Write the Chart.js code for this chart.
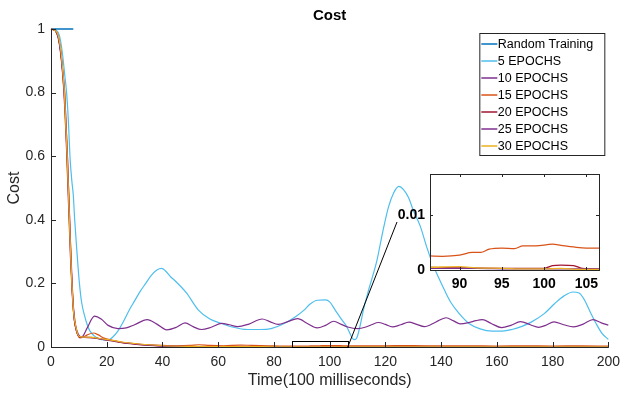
<!DOCTYPE html>
<html>
<head>
<meta charset="utf-8">
<script src="https://cdn.jsdelivr.net/npm/chart.js@4/dist/chart.umd.min.js"></script>
<style>
  html, body { margin: 0; padding: 0; background: #fff; }
  #wrap { position: relative; width: 627px; height: 393px; }
  #main { position: absolute; left: 0; top: 0; }
  #inset { position: absolute; left: 380px; top: 160px; }
</style>
</head>
<body>
<div id="wrap">
  <canvas id="main" width="627" height="393"></canvas>
  <canvas id="inset" width="230" height="140"></canvas>
</div>
<script>
// ---- Cost over time (time unit = 100 ms) ----
const randomT    = [0, 8];
const randomCost = [1, 1];

const epoch5T = [0,2,3,4,5,5.6,6.3,6.8,7.5,8, 8.5,9.3,10.2,11,12,13,14,15.5,17,19,
  20.5,22,24,26,28,30,32,34,36,38, 39.7,41,43,44.3,48.6,52.9,57,61.2,65,70.6,
  75,79,83.7,88,90.8,93,95.5,98.5,100,102, 104,106.2,108,108.8,109.8,111,112.1,114,116.9,119,
  121.1,123,124.8,126.5,128.3,130,132.5,135,137,139, 141.2,143.5,146.5,150,154,158.3,162,165.4,169,172.5,
  177,180.8,184,187.3,189.5,191.5,193.5,195.6,197.8,200];
const epoch5Cost = [1,0.995,0.98,0.93,0.85,0.8,0.7,0.6,0.52,0.478, 0.4,0.3,0.2,0.14,0.1,0.07,0.05,0.035,0.027,0.022,
  0.022,0.03,0.05,0.08,0.115,0.145,0.175,0.2,0.225,0.242, 0.247,0.24,0.22,0.21,0.17,0.116,0.088,0.074,0.063,0.055,
  0.055,0.058,0.074,0.097,0.116,0.135,0.147,0.148,0.142,0.116, 0.09,0.063,0.03,0.023,0.03,0.07,0.116,0.18,0.27,0.36,
  0.44,0.485,0.505,0.495,0.47,0.43,0.38,0.31,0.26,0.22, 0.179,0.14,0.105,0.074,0.057,0.05,0.05,0.055,0.065,0.079,
  0.105,0.137,0.16,0.173,0.17,0.147,0.11,0.074,0.042,0.024];

const epoch10T = [0,1.5,2.5,3.5,4.3,4.9,5.4,5.9,6.3,6.7, 7.1,7.6,8.2,9,9.8,10.5,11.5,13,15.6,18,
  20.5,24,27,30,34.5,38,41.5,45,48.1,51, 54,57.5,61.2,64,67,71,75.8,78.5,81.5,85,
  88.5,92,95.5,98.5,101.5,104,106.5,110,113,115, 117.5,120,122.5,125.5,128.5,131,134,138,141.8,144.5,
  146.8,150,152.5,154.8,158,161.7,165,168.5,172,175, 177.5,180.5,184,187.5,191,194.5,197.5,200];
const epoch10Cost = [1,0.995,0.98,0.93,0.86,0.8,0.7,0.6,0.5,0.4, 0.3,0.2,0.1,0.055,0.036,0.03,0.035,0.06,0.097,0.088,
  0.068,0.058,0.06,0.07,0.086,0.072,0.054,0.062,0.076,0.064, 0.055,0.062,0.074,0.07,0.064,0.072,0.088,0.08,0.071,0.08,
  0.089,0.074,0.06,0.068,0.081,0.072,0.063,0.058,0.063,0.07, 0.077,0.071,0.063,0.07,0.078,0.072,0.064,0.078,0.092,0.082,
  0.073,0.077,0.083,0.086,0.074,0.061,0.068,0.08,0.07,0.062, 0.068,0.079,0.07,0.063,0.072,0.086,0.076,0.069];

const epoch15T = [0,1.5,2.5,3.5,4.3,4.9,5.4,5.9,6.3,6.7, 7.1,7.5,8.2,9,9.8,10.4,11.5,13,15.2,17,
  19,22,26,30,35,40,45,50,53,57, 62,68,72,78,82,86,88,90,91.5,92.5,
  93.5,95,96.5,97.5,99,101,102,103.5,105,106.5, 110,120,130,140,150,160,170,180,190,200];
const epoch15Cost = [1,0.995,0.98,0.93,0.86,0.8,0.7,0.6,0.5,0.4, 0.3,0.2,0.1,0.055,0.035,0.029,0.031,0.038,0.044,0.038,
  0.028,0.021,0.014,0.01,0.007,0.005,0.004,0.005,0.007,0.005, 0.004,0.006,0.005,0.004,0.003,0.0026,0.0025,0.0027,0.0032,0.0032,
  0.0038,0.004,0.0039,0.0044,0.0044,0.0047,0.0045,0.0042,0.004,0.004, 0.0035,0.004,0.0045,0.0035,0.004,0.003,0.0035,0.003,0.0035,0.003];

const epoch20T = [0,1.5,2.5,3.5,4.5,5,5.5,6,6.5,7, 7.6,8.3,9.2,10.2,12,15,18,22,26,30,
  35,40,50,60,70,80,86,90,95,100, 101,102,103.5,104.5,107,120,140,160,180,200];
const epoch20Cost = [1,0.995,0.975,0.92,0.82,0.74,0.64,0.52,0.4,0.28, 0.17,0.09,0.05,0.031,0.03,0.029,0.025,0.019,0.013,0.009,
  0.005,0.003,0.0015,0.001,0.001,0.0007,0.0005,0.0004,0.0003,0.0003, 0.0008,0.0009,0.0008,0.0003,0.0002,0.0004,0.0003,0.0004,0.0003,0.0003];

const epoch25T = [0,1.5,2.5,3.5,4.4,5,5.5,6,6.4,6.8, 7.3,8,8.8,9.8,11,14,18,22,26,30,
  35,40,50,60,70,80,86,92,96,100, 106,120,140,160,180,200];
const epoch25Cost = [1,0.995,0.978,0.925,0.84,0.76,0.66,0.55,0.45,0.35, 0.24,0.13,0.07,0.04,0.031,0.03,0.025,0.02,0.014,0.01,
  0.006,0.003,0.0015,0.001,0.0008,0.0005,0.0003,0.0003,0.0002,0.0002, 0.0002,0.0003,0.0002,0.0003,0.0002,0.0002];

const epoch30T = [0,1.5,2.5,3.5,4.2,4.8,5.3,5.8,6.2,6.6, 7,7.5,8.1,9,10,12,15,18,22,26,
  30,35,40,50,60,70,80,86,90,92, 95,98,100,102,104,107,120,140,160,180, 200];
const epoch30Cost = [1,0.995,0.982,0.935,0.87,0.8,0.7,0.6,0.5,0.4, 0.3,0.2,0.11,0.06,0.034,0.031,0.03,0.026,0.021,0.015,
  0.011,0.007,0.004,0.002,0.0015,0.001,0.0008,0.0005,0.0006,0.0004, 0.0003,0.0002,0.0002,0.0003,0.0001,0.0001,0.0002,0.0003,0.0002,0.0003, 0.0002];

const seriesLabels = ['Random Training','5 EPOCHS','10 EPOCHS','15 EPOCHS','20 EPOCHS','25 EPOCHS','30 EPOCHS'];

// axis ticks
const xTicks = [0,20,40,60,80,100,120,140,160,180,200];
const yTicks = [0,0.2,0.4,0.6,0.8,1];
const zoomX = [86.5, 106.5];
const zoomY = [0, 0.0175];
const insetXTicks = [90,95,100,105];
const insetYTicks = [0,0.01];

const FONT = 'Liberation Sans, Arial, Helvetica, sans-serif';
const AXIS = '#262626';
const colors = ['#0072BD','#4DBEEE','#7E2F8E','#D95319','#A2142F','#7E2F8E','#EDB120'];
const seriesT = [randomT, epoch5T, epoch10T, epoch15T, epoch20T, epoch25T, epoch30T];
const seriesC = [randomCost, epoch5Cost, epoch10Cost, epoch15Cost, epoch20Cost, epoch25Cost, epoch30Cost];

function points(t, c) { return t.map((x, i) => ({ x: x, y: c[i] })); }

function makeDatasets(clip) {
  return seriesLabels.map((label, i) => ({
    label: label,
    data: points(seriesT[i], seriesC[i]),
    borderColor: colors[i],
    backgroundColor: colors[i],
    borderWidth: i === 0 ? 1.5 : 1.2,
    pointRadius: 0,
    fill: false,
    clip: clip,
    cubicInterpolationMode: 'monotone',
    order: seriesLabels.length - i   // later series drawn on top
  }));
}

// inward ticks, axis lines, zoom box and connector on the main axes
const mainDecor = {
  id: 'mainDecor',
  afterDatasetsDraw(chart) {
    const { ctx, chartArea: a, scales: { x, y } } = chart;
    ctx.save();
    ctx.strokeStyle = AXIS;
    ctx.lineWidth = 1;
    ctx.beginPath();
    ctx.moveTo(a.left + 0.5, a.top);
    ctx.lineTo(a.left + 0.5, a.bottom + 0.5);
    ctx.lineTo(a.right + 0.5, a.bottom + 0.5);
    xTicks.forEach(v => {
      const px = Math.round(x.getPixelForValue(v)) + 0.5;
      ctx.moveTo(px, a.bottom); ctx.lineTo(px, a.bottom - 5);
    });
    yTicks.forEach(v => {
      const py = Math.round(y.getPixelForValue(v)) + 0.5;
      ctx.moveTo(a.left, py); ctx.lineTo(a.left + 5, py);
    });
    ctx.stroke();

    // zoomed region box
    const x0 = x.getPixelForValue(zoomX[0]), x1 = x.getPixelForValue(zoomX[1]);
    const y0 = y.getPixelForValue(zoomY[0]), y1 = y.getPixelForValue(zoomY[1]);
    ctx.strokeStyle = '#000';
    ctx.lineWidth = 1;
    ctx.strokeRect(Math.round(x0) + 0.5, Math.round(y1) + 0.5, Math.round(x1 - x0), Math.round(y0 - y1));
    // connector to the inset
    ctx.beginPath();
    ctx.moveTo(x1, y0);
    ctx.lineTo(397, 222);
    ctx.stroke();
    ctx.restore();
  },
  afterDraw(chart) {
    const { ctx, chartArea: a } = chart;
    ctx.save();
    // title
    ctx.fillStyle = '#000';
    ctx.font = 'bold 15px ' + FONT;
    ctx.textAlign = 'center';
    ctx.textBaseline = 'middle';
    ctx.fillText('Cost', (a.left + a.right) / 2, 16);

    // legend
    const left = a.right - 129, top = a.top + 4, w = 125, rowH = 17;
    const h = rowH * seriesLabels.length + 3;
    ctx.fillStyle = '#fff';
    ctx.fillRect(left, top, w, h);
    ctx.strokeStyle = AXIS;
    ctx.lineWidth = 1;
    ctx.strokeRect(left + 0.5, top + 0.5, w, h);
    ctx.font = '12.5px ' + FONT;
    ctx.textAlign = 'left';
    seriesLabels.forEach((label, i) => {
      const cy = top + 11 + rowH * i;
      ctx.strokeStyle = colors[i];
      ctx.lineWidth = 1.5;
      ctx.beginPath();
      ctx.moveTo(left + 2, cy); ctx.lineTo(left + 18, cy);
      ctx.stroke();
      ctx.fillStyle = '#000';
      ctx.fillText(label, left + 18.5, cy + 0.5);
    });
    ctx.restore();
  }
};

new Chart(document.getElementById('main'), {
  type: 'line',
  data: { datasets: makeDatasets(4) },
  options: {
    responsive: false,
    animation: false,
    devicePixelRatio: 1,
    layout: { padding: { top: 29, right: 13, left: 0, bottom: 0 } },
    plugins: { legend: { display: false }, tooltip: { enabled: false }, title: { display: false } },
    scales: {
      x: {
        type: 'linear', min: 0, max: 200,
        afterBuildTicks: s => { s.ticks = xTicks.map(v => ({ value: v })); },
        afterFit: s => { s.height = 46; },
        grid: { display: false, drawTicks: false },
        border: { display: false },
        ticks: { font: { family: FONT, size: 14 }, color: AXIS, padding: 7, maxRotation: 0, autoSkip: false },
        title: { display: true, text: 'Time(100 milliseconds)', color: AXIS,
                 font: { family: FONT, size: 16 }, padding: { top: 0, bottom: 3 } }
      },
      y: {
        type: 'linear', min: 0, max: 1,
        afterBuildTicks: s => { s.ticks = yTicks.map(v => ({ value: v })); },
        afterFit: s => { s.width = 51; },
        grid: { display: false, drawTicks: false },
        border: { display: false },
        ticks: { font: { family: FONT, size: 14 }, color: AXIS, padding: 6, callback: v => String(v) },
        title: { display: true, text: 'Cost', color: AXIS,
                 font: { family: FONT, size: 16 }, padding: { top: 5, bottom: 0 } }
      }
    }
  },
  plugins: [mainDecor]
});

// ---- inset: magnified view of the near-zero region ----
const insetDecor = {
  id: 'insetDecor',
  beforeDatasetsDraw(chart) {
    const { ctx, chartArea: a } = chart;
    ctx.save();
    ctx.fillStyle = '#fff';
    ctx.fillRect(a.left, a.top, a.right - a.left, a.bottom - a.top);
    ctx.restore();
  },
  afterDatasetsDraw(chart) {
    const { ctx, chartArea: a, scales: { x, y } } = chart;
    ctx.save();
    ctx.strokeStyle = AXIS;
    ctx.lineWidth = 1;
    ctx.strokeRect(a.left + 0.5, a.top + 0.5, a.right - a.left, a.bottom - a.top);
    ctx.beginPath();
    insetXTicks.forEach(v => {
      const px = Math.round(x.getPixelForValue(v)) + 0.5;
      ctx.moveTo(px, a.bottom); ctx.lineTo(px, a.bottom - 3);
      ctx.moveTo(px, a.top); ctx.lineTo(px, a.top + 3);
    });
    insetYTicks.forEach(v => {
      const py = Math.round(y.getPixelForValue(v)) + 0.5;
      ctx.moveTo(a.left, py); ctx.lineTo(a.left + 3, py);
      ctx.moveTo(a.right, py); ctx.lineTo(a.right - 3, py);
    });
    ctx.stroke();
    ctx.restore();
  }
};

const insetData = makeDatasets(0);
insetData.forEach(d => { d.borderWidth = 1.3; });

new Chart(document.getElementById('inset'), {
  type: 'line',
  data: { datasets: insetData },
  options: {
    responsive: false,
    animation: false,
    devicePixelRatio: 1,
    layout: { padding: { top: 14, right: 11, left: 0, bottom: 0 } },
    plugins: { legend: { display: false }, tooltip: { enabled: false } },
    scales: {
      x: {
        type: 'linear', min: zoomX[0], max: zoomX[1],
        afterBuildTicks: s => { s.ticks = insetXTicks.map(v => ({ value: v })); },
        afterFit: s => { s.height = 30; },
        grid: { display: false, drawTicks: false },
        border: { display: false },
        ticks: { font: { family: FONT, size: 14, weight: 'bold' }, color: '#000', padding: 6, maxRotation: 0, autoSkip: false }
      },
      y: {
        type: 'linear', min: zoomY[0], max: zoomY[1],
        afterBuildTicks: s => { s.ticks = insetYTicks.map(v => ({ value: v })); },
        afterFit: s => { s.width = 50; },
        grid: { display: false, drawTicks: false },
        border: { display: false },
        ticks: { font: { family: FONT, size: 14, weight: 'bold' }, color: '#000', padding: 5, callback: v => String(v) }
      }
    }
  },
  plugins: [insetDecor]
});
</script>
</body>
</html>
